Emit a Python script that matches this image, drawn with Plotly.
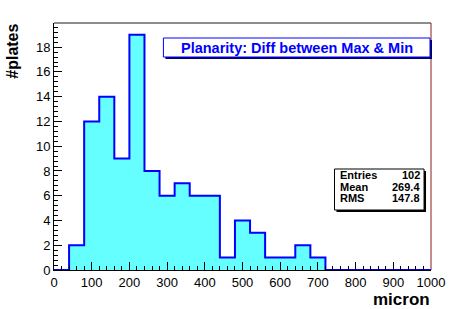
import plotly.graph_objects as go

bin_edges = [0, 40, 80, 120, 160, 200, 240, 280, 320, 360, 400, 440, 480, 520,
             560, 600, 640, 680, 720, 760, 800, 840, 880, 920, 960, 1000]
counts = [0, 2, 12, 14, 9, 19, 8, 6, 7, 6, 6, 1, 4, 3, 1, 1, 2, 1,
          0, 0, 0, 0, 0, 0, 0]
x_ticks = [0, 100, 200, 300, 400, 500, 600, 700, 800, 900, 1000]
y_ticks = [0, 2, 4, 6, 8, 10, 12, 14, 16, 18]
stat_names = ["Entries", "Mean", "RMS"]
stat_values = ["102", "269.4", "147.8"]
title_text = "Planarity: Diff between Max & Min"

xs = list(bin_edges)
ys = list(counts) + [counts[-1]]

FONT = "Liberation Sans, Arial, Helvetica, sans-serif"

fig = go.Figure()
fig.add_trace(go.Scatter(
    x=xs, y=ys, mode="lines", line=dict(shape="hv", color="#0000ff", width=2),
    fill="tozeroy", fillcolor="rgb(102,255,255)", hoverinfo="skip", showlegend=False))

W, H = 457, 309
L, R, T, B = 54, 433, 23, 270


def px(x):
    return (x - L) / (R - L)


def py(y):
    return (B - y) / (B - T)


shapes = []
shapes.append(dict(type="line", xref="paper", yref="paper", x0=0, x1=1, y0=1, y1=1,
                   line=dict(color="#8c8c8c", width=2), layer="above"))
shapes.append(dict(type="line", xref="paper", yref="paper", x0=1, x1=1, y0=0, y1=1,
                   line=dict(color="#8b1a1a", width=1), layer="above"))
shapes.append(dict(type="rect", xref="paper", yref="paper",
                   x0=px(166), x1=px(434), y0=py(59), y1=py(40),
                   fillcolor="#000066", line=dict(width=0), layer="above"))
shapes.append(dict(type="rect", xref="paper", yref="paper",
                   x0=px(164), x1=px(432), y0=py(57), y1=py(38),
                   fillcolor="white", line=dict(color="#0000ff", width=1), layer="above"))
shapes.append(dict(type="rect", xref="paper", yref="paper",
                   x0=px(338), x1=px(428), y0=py(212), y1=py(171),
                   fillcolor="black", line=dict(width=0), layer="above"))
shapes.append(dict(type="rect", xref="paper", yref="paper",
                   x0=px(336), x1=px(426), y0=py(210), y1=py(169),
                   fillcolor="white", line=dict(color="black", width=1), layer="above"))

annotations = []
annotations.append(dict(xref="paper", yref="paper", x=px(298), y=py(48),
                        text="<b>" + title_text.replace("&", "&amp;") + "</b>",
                        showarrow=False, font=dict(family=FONT, size=14.5, color="#0000ff"),
                        xanchor="center", yanchor="middle"))
row_y = [175, 187, 198]
for name, val, ry in zip(stat_names, stat_values, row_y):
    annotations.append(dict(xref="paper", yref="paper", x=px(340), y=py(ry), text="<b>" + name + "</b>",
                            showarrow=False, font=dict(family=FONT, size=11, color="black"),
                            xanchor="left", yanchor="middle"))
    annotations.append(dict(xref="paper", yref="paper", x=px(424), y=py(ry), text="<b>" + val + "</b>",
                            showarrow=False, font=dict(family=FONT, size=11, color="black"),
                            xanchor="right", yanchor="middle"))
annotations.append(dict(xref="paper", yref="paper", x=px(434), y=py(299), text="<b>micron</b>",
                        showarrow=False, font=dict(family=FONT, size=17, color="black"),
                        xanchor="right", yanchor="middle"))
annotations.append(dict(xref="paper", yref="paper", x=px(12), y=py(22), text="<b>#plates</b>",
                        showarrow=False, font=dict(family=FONT, size=16, color="black"),
                        xanchor="center", yanchor="top", textangle=-90))

fig.update_layout(
    width=W, height=H,
    margin=dict(l=L, r=W - R, t=T, b=H - B, pad=0),
    paper_bgcolor="white", plot_bgcolor="white",
    font=dict(family=FONT, size=13, color="black"),
    shapes=shapes, annotations=annotations,
    xaxis=dict(range=[0, 1000], tickvals=x_ticks, ticktext=[str(v) for v in x_ticks],
               ticks="inside", ticklen=8, tickcolor="black", tickwidth=1,
               showgrid=False, zeroline=False, showline=True, linecolor="black", linewidth=1,
               minor=dict(dtick=20, ticks="inside", ticklen=4, tickcolor="black", showgrid=False),
               tickfont=dict(size=13), fixedrange=True),
    yaxis=dict(range=[0, 19.95], tickvals=y_ticks, ticktext=[str(v) for v in y_ticks],
               ticks="inside", ticklen=8, tickcolor="black", tickwidth=1,
               showgrid=False, zeroline=False, showline=True, linecolor="black", linewidth=1,
               minor=dict(dtick=0.4, ticks="inside", ticklen=4, tickcolor="black", showgrid=False),
               tickfont=dict(size=13), fixedrange=True),
)

fig.write_html("out.html", config={"displayModeBar": False, "staticPlot": True},
               post_script="document.body.style.margin='0';document.body.style.overflow='hidden';")
